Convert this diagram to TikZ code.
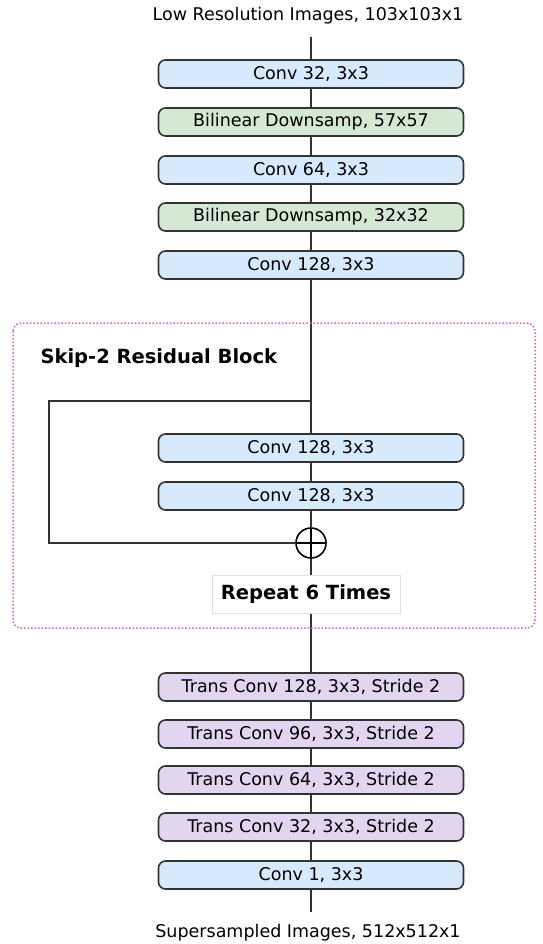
\documentclass[tikz,border=0pt]{standalone}
\usepackage{fontspec}
\setmainfont{DejaVu Sans}
\usetikzlibrary{backgrounds}
\definecolor{convblue}{HTML}{D7E9FC}
\definecolor{downgreen}{HTML}{D5E8D4}
\definecolor{transpurple}{HTML}{E1D5F0}
\definecolor{blockpink}{HTML}{CC66CC}
\newcommand{\linecolor}{black!80}
\newcommand{\thickness}{1.6pt}
\newcommand{\boxw}{305pt}
\newcommand{\boxh}{28pt}

\begin{document}
\begin{tikzpicture}[x=1pt, y=-1pt,
  layer/.style={draw=\linecolor, line width=\thickness, rounded corners=7pt, minimum width=\boxw, minimum height=\boxh, inner sep=0pt, font=\fontsize{17.5}{20}\selectfont},
  conv/.style={layer, fill=convblue},
  down/.style={layer, fill=downgreen},
  trans/.style={layer, fill=transpurple},
  label/.style={font=\fontsize{17.5}{20}\selectfont},
  wire/.style={draw=\linecolor, line width=\thickness}]
\useasboundingbox (0,0) rectangle (542,944);
\node[label] (in) at (308,16) {Low Resolution Images, 103x103x1};
\coordinate (top) at (311,37);
\node[conv] (c1) at (311,74) {Conv 32, 3x3};
\node[down] (d1) at (311,122) {Bilinear Downsamp, 57x57};
\node[conv] (c2) at (311,170) {Conv 64, 3x3};
\node[down] (d2) at (311,217) {Bilinear Downsamp, 32x32};
\node[conv] (c3) at (311,265) {Conv 128, 3x3};
%residual block
\draw[blockpink, line width=1.5pt, dotted, rounded corners=8pt] (13,323) rectangle (535,628);
\node[anchor=west, font=\bfseries\fontsize{19.5}{22}\selectfont] (title) at (37,358) {Skip-2 Residual Block};
\coordinate (split) at (311,401);
\coordinate (back) at (49,401);
\node[conv] (r1) at (311,448) {Conv 128, 3x3};
\node[conv] (r2) at (311,496) {Conv 128, 3x3};
\node[circle, draw=black, line width=\thickness, fill=white, minimum size=30pt, inner sep=0pt] (plus) at (311,543) {};
\draw[black, line width=\thickness] ([yshift=-2pt]plus.north) -- ([yshift=2pt]plus.south);
\draw[black, line width=\thickness] ([xshift=2pt]plus.west) -- ([xshift=-2pt]plus.east);
\node[draw=black!12, fill=white, minimum width=188pt, minimum height=38pt, font=\bfseries\fontsize{19.5}{22}\selectfont] (rep) at (306,594) {Repeat 6 Times};
%upsampling
\node[trans] (t1) at (311,687) {Trans Conv 128, 3x3, Stride 2};
\node[trans] (t2) at (311,734) {Trans Conv 96, 3x3, Stride 2};
\node[trans] (t3) at (311,780) {Trans Conv 64, 3x3, Stride 2};
\node[trans] (t4) at (311,827) {Trans Conv 32, 3x3, Stride 2};
\node[conv] (c4) at (311,875) {Conv 1, 3x3};
\coordinate (bot) at (311,912);
\node[label] (out) at (308,933) {Supersampled Images, 512x512x1};
%wires
\begin{scope}[on background layer]
\draw[wire] (top) -- (c1);
\draw[wire] (c1) -- (d1);
\draw[wire] (d1) -- (c2);
\draw[wire] (c2) -- (d2);
\draw[wire] (d2) -- (c3);
\draw[wire] (c3) -- (split) -- (r1);
\draw[wire] (r1) -- (r2);
\draw[wire] (r2) -- (plus);
\draw[wire] (split) -- (back) |- (plus);
\draw[wire] (plus) -- (plus |- rep.north);
\draw[wire] (plus |- rep.south) -- (t1);
\draw[wire] (t1) -- (t2);
\draw[wire] (t2) -- (t3);
\draw[wire] (t3) -- (t4);
\draw[wire] (t4) -- (c4);
\draw[wire] (c4) -- (bot);
\end{scope}
\end{tikzpicture}
\end{document}
